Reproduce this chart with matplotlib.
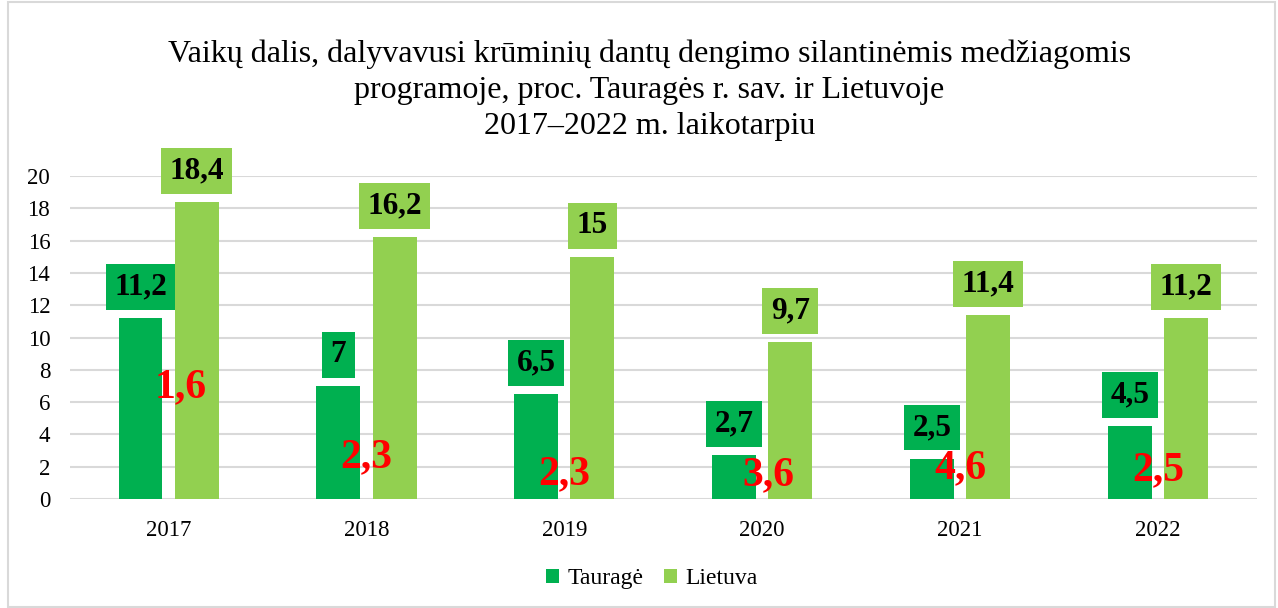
import matplotlib
matplotlib.use("Agg")
import matplotlib.pyplot as plt
import numpy as np
from matplotlib.patches import Rectangle

years = ["2017", "2018", "2019", "2020", "2021", "2022"]
taurage = [11.2, 7, 6.5, 2.7, 2.5, 4.5]
lietuva = [18.4, 16.2, 15, 9.7, 11.4, 11.2]
ratio_labels = ["1,6", "2,3", "2,3", "3,6", "4,6", "2,5"]
# layout of the red ratio labels (x offset in category units, y in data units)
ratio_dx = [0.06, 0.0, 0.0, 0.03, 0.0, 0.0]
ratio_y = [6.9, 2.6, 1.55, 1.5, 1.9, 1.8]

c_t = "#00B050"
c_l = "#92D050"
serif = ["Liberation Serif", "DejaVu Serif"]
plt.rcParams["font.family"] = serif

fig = plt.figure(figsize=(12.78, 6.08), dpi=100)
fig.patches.append(Rectangle((0.006, 0.002), 0.992, 0.995, transform=fig.transFigure,
                             fill=False, edgecolor="#D9D9D9", linewidth=1.5))
ax = fig.add_axes([0.0545, 0.1793, 0.929, 0.5312])

x = np.arange(len(years))
w = 0.222
off = 0.142
bt = ax.bar(x - off, taurage, w, color=c_t, label="Tauragė", zorder=3)
bl = ax.bar(x + off, lietuva, w, color=c_l, label="Lietuva", zorder=3)

def fmt(v):
    return ("%g" % v).replace(".", ",")

for xs, vals, col in [(x - off, taurage, c_t), (x + off, lietuva, c_l)]:
    for xi, v in zip(xs, vals):
        ax.annotate(fmt(v), (xi, v), xytext=(0, 12), textcoords="offset points",
                    ha="center", va="bottom", fontsize=22.5, fontweight="bold",
                    color="black", annotation_clip=False, zorder=5,
                    bbox=dict(boxstyle="square,pad=0.27", fc=col, ec="none"))

for xi, lab, dx, yy in zip(x, ratio_labels, ratio_dx, ratio_y):
    ax.text(xi + dx, yy, lab, ha="center", va="center", fontsize=30,
            fontweight="bold", color="#FF0000", zorder=6)

ax.set_xlim(-0.5, len(years) - 0.5)
ax.set_ylim(0, 20)
ax.set_yticks(np.arange(0, 21, 2))
ax.set_xticks(x)
ax.set_xticklabels(years)
ax.yaxis.grid(True, color="#D9D9D9", linewidth=1.5, zorder=0)
ax.set_axisbelow(True)
for s in ax.spines.values():
    s.set_visible(False)
ax.tick_params(axis="both", length=0, labelsize=16.5, colors="#000000")
ax.tick_params(axis="x", pad=15)
ax.tick_params(axis="y", pad=14)

fig.text(0.508, 0.852,
         "Vaikų dalis, dalyvavusi krūminių dantų dengimo silantinėmis medžiagomis\n"
         "programoje, proc. Tauragės r. sav. ir Lietuvoje\n"
         "2017–2022 m. laikotarpiu",
         ha="center", va="center", fontsize=23, linespacing=1.31)

fig.legend(handles=[bt, bl], labels=["Tauragė", "Lietuva"], loc="center",
           bbox_to_anchor=(0.51, 0.048), ncol=2, frameon=False, fontsize=17,
           handlelength=0.55, handleheight=0.55, handletextpad=0.35, columnspacing=0.85)

fig.savefig("out.png", dpi=100)
